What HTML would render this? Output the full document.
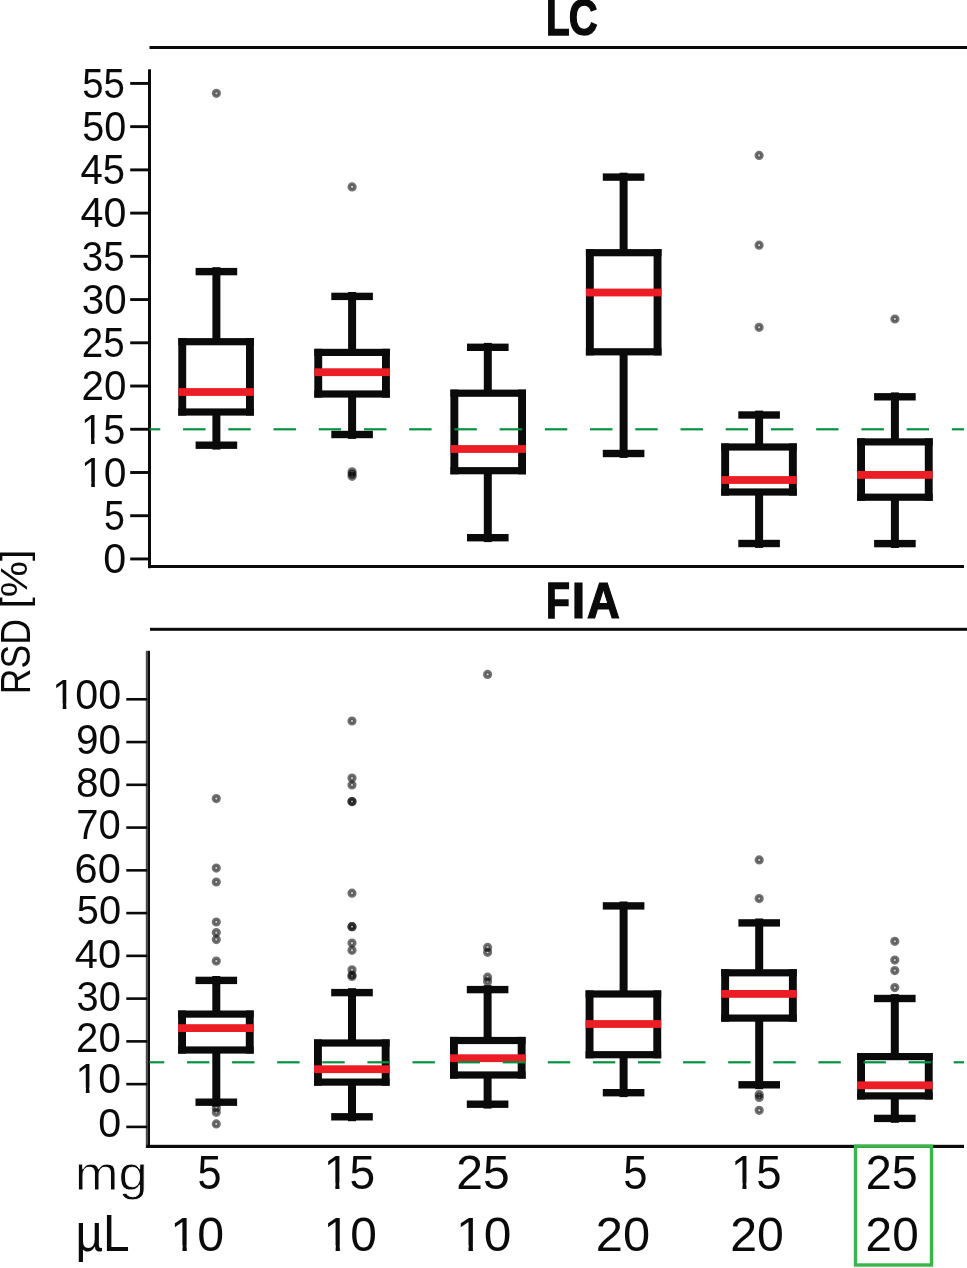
<!DOCTYPE html>
<html><head><meta charset="utf-8"><style>
html,body{margin:0;padding:0;background:#fff;}
body{width:967px;height:1268px;overflow:hidden;font-family:"Liberation Sans",sans-serif;}
svg{display:block;will-change:transform;}
</style></head><body>
<svg width="967" height="1268" viewBox="0 0 967 1268">
<rect width="967" height="1268" fill="#fff"/>
<g transform="matrix(0.38732 0 0 0.50222 545.91 34.53)"><text font-family="Liberation Sans" font-weight="bold" font-size="100" fill="#0a0a0a" stroke="#0a0a0a" stroke-width="2.70" stroke-linejoin="miter">L</text></g>
<g transform="matrix(0.40054 0 0 0.50373 568.83 34.53)"><text font-family="Liberation Sans" font-weight="bold" font-size="100" fill="#0a0a0a" stroke="#0a0a0a" stroke-width="2.65" stroke-linejoin="miter">C</text></g>
<rect x="149.5" y="46" width="817.5" height="3" fill="#0a0a0a"/>
<rect x="148" y="69.3" width="3" height="498.9" fill="#0a0a0a"/>
<rect x="148" y="565" width="816" height="3" fill="#0a0a0a"/>
<rect x="130.2" y="557.50" width="19" height="2.9" fill="#0a0a0a"/>
<g transform="matrix(0.41263 0 0 0.41972 103.35 573.28)"><text font-family="Liberation Sans" font-size="100" fill="#0a0a0a">0</text></g>
<rect x="130.2" y="514.27" width="19" height="2.9" fill="#0a0a0a"/>
<g transform="matrix(0.37474 0 0 0.42571 104.00 530.04)"><text font-family="Liberation Sans" font-size="100" fill="#0a0a0a">5</text></g>
<rect x="130.2" y="471.04" width="19" height="2.9" fill="#0a0a0a"/>
<g transform="matrix(0.40870 0 0 0.41972 80.97 486.82)"><text font-family="Liberation Sans" font-size="100" fill="#0a0a0a">10</text><rect x="1.95" y="-12.70" width="23.19" height="18.55" fill="#fff"/><rect x="33.98" y="-12.70" width="22.17" height="18.55" fill="#fff"/></g>
<rect x="130.2" y="427.81" width="19" height="2.9" fill="#0a0a0a"/>
<g transform="matrix(0.39741 0 0 0.42571 81.08 443.58)"><text font-family="Liberation Sans" font-size="100" fill="#0a0a0a">15</text><rect x="1.95" y="-12.70" width="23.19" height="18.55" fill="#fff"/><rect x="33.98" y="-12.70" width="22.17" height="18.55" fill="#fff"/></g>
<rect x="130.2" y="384.58" width="19" height="2.9" fill="#0a0a0a"/>
<g transform="matrix(0.40392 0 0 0.41972 81.48 400.36)"><text font-family="Liberation Sans" font-size="100" fill="#0a0a0a">20</text></g>
<rect x="130.2" y="341.35" width="19" height="2.9" fill="#0a0a0a"/>
<g transform="matrix(0.38529 0 0 0.41972 81.77 357.13)"><text font-family="Liberation Sans" font-size="100" fill="#0a0a0a">25</text></g>
<rect x="130.2" y="298.12" width="19" height="2.9" fill="#0a0a0a"/>
<g transform="matrix(0.40291 0 0 0.41972 81.79 313.90)"><text font-family="Liberation Sans" font-size="100" fill="#0a0a0a">30</text></g>
<rect x="130.2" y="254.89" width="19" height="2.9" fill="#0a0a0a"/>
<g transform="matrix(0.38447 0 0 0.41972 81.86 270.67)"><text font-family="Liberation Sans" font-size="100" fill="#0a0a0a">35</text></g>
<rect x="130.2" y="211.66" width="19" height="2.9" fill="#0a0a0a"/>
<g transform="matrix(0.41244 0 0 0.41972 80.47 227.44)"><text font-family="Liberation Sans" font-size="100" fill="#0a0a0a">40</text></g>
<rect x="130.2" y="168.43" width="19" height="2.9" fill="#0a0a0a"/>
<g transform="matrix(0.40000 0 0 0.42571 80.50 184.20)"><text font-family="Liberation Sans" font-size="100" fill="#0a0a0a">45</text></g>
<rect x="130.2" y="125.20" width="19" height="2.9" fill="#0a0a0a"/>
<g transform="matrix(0.39612 0 0 0.41972 82.22 140.98)"><text font-family="Liberation Sans" font-size="100" fill="#0a0a0a">50</text></g>
<rect x="130.2" y="81.97" width="19" height="2.9" fill="#0a0a0a"/>
<g transform="matrix(0.38350 0 0 0.42571 82.27 97.74)"><text font-family="Liberation Sans" font-size="100" fill="#0a0a0a">55</text></g>
<rect x="212.40" y="267.20" width="8.0" height="72.90" fill="#0a0a0a"/>
<rect x="212.40" y="413.60" width="8.0" height="36.00" fill="#0a0a0a"/>
<rect x="195.60" y="267.90" width="41.6" height="7.4" fill="#0a0a0a"/>
<rect x="195.60" y="441.50" width="41.6" height="7.4" fill="#0a0a0a"/>
<rect x="178.30" y="338.10" width="75.6" height="7.2" fill="#0a0a0a"/>
<rect x="178.30" y="408.40" width="75.6" height="7.2" fill="#0a0a0a"/>
<rect x="178.30" y="338.10" width="7.9" height="77.50" fill="#0a0a0a"/>
<rect x="246.00" y="338.10" width="7.9" height="77.50" fill="#0a0a0a"/>
<rect x="178.30" y="388.10" width="75.6" height="7.8" fill="#ec1d25"/>
<circle cx="216.40" cy="93.35" r="2.85" fill="#000" fill-opacity="0.2" stroke="#000" stroke-opacity="0.55" stroke-width="3.5"/>
<rect x="348.10" y="292.00" width="8.0" height="58.80" fill="#0a0a0a"/>
<rect x="348.10" y="395.60" width="8.0" height="43.30" fill="#0a0a0a"/>
<rect x="331.30" y="292.70" width="41.6" height="7.4" fill="#0a0a0a"/>
<rect x="331.30" y="430.80" width="41.6" height="7.4" fill="#0a0a0a"/>
<rect x="314.30" y="348.80" width="75.6" height="7.2" fill="#0a0a0a"/>
<rect x="314.30" y="390.40" width="75.6" height="7.2" fill="#0a0a0a"/>
<rect x="314.30" y="348.80" width="7.9" height="48.80" fill="#0a0a0a"/>
<rect x="382.00" y="348.80" width="7.9" height="48.80" fill="#0a0a0a"/>
<rect x="314.30" y="368.30" width="75.6" height="7.8" fill="#ec1d25"/>
<circle cx="352.10" cy="186.90" r="2.85" fill="#000" fill-opacity="0.2" stroke="#000" stroke-opacity="0.55" stroke-width="3.5"/>
<circle cx="352.10" cy="471.80" r="2.85" fill="#000" fill-opacity="0.2" stroke="#000" stroke-opacity="0.55" stroke-width="3.5"/>
<circle cx="352.10" cy="474.10" r="2.85" fill="#000" fill-opacity="0.2" stroke="#000" stroke-opacity="0.55" stroke-width="3.5"/>
<circle cx="352.10" cy="476.30" r="2.85" fill="#000" fill-opacity="0.2" stroke="#000" stroke-opacity="0.55" stroke-width="3.5"/>
<rect x="483.80" y="342.90" width="8.0" height="48.70" fill="#0a0a0a"/>
<rect x="483.80" y="472.30" width="8.0" height="69.80" fill="#0a0a0a"/>
<rect x="467.00" y="343.60" width="41.6" height="7.4" fill="#0a0a0a"/>
<rect x="467.00" y="534.00" width="41.6" height="7.4" fill="#0a0a0a"/>
<rect x="450.40" y="389.60" width="75.6" height="7.2" fill="#0a0a0a"/>
<rect x="450.40" y="467.10" width="75.6" height="7.2" fill="#0a0a0a"/>
<rect x="450.40" y="389.60" width="7.9" height="84.70" fill="#0a0a0a"/>
<rect x="518.10" y="389.60" width="7.9" height="84.70" fill="#0a0a0a"/>
<rect x="450.40" y="445.10" width="75.6" height="7.8" fill="#ec1d25"/>
<rect x="619.60" y="172.70" width="8.0" height="78.40" fill="#0a0a0a"/>
<rect x="619.60" y="353.40" width="8.0" height="104.50" fill="#0a0a0a"/>
<rect x="602.80" y="173.40" width="41.6" height="7.4" fill="#0a0a0a"/>
<rect x="602.80" y="449.80" width="41.6" height="7.4" fill="#0a0a0a"/>
<rect x="585.90" y="249.10" width="75.6" height="7.2" fill="#0a0a0a"/>
<rect x="585.90" y="348.20" width="75.6" height="7.2" fill="#0a0a0a"/>
<rect x="585.90" y="249.10" width="7.9" height="106.30" fill="#0a0a0a"/>
<rect x="653.60" y="249.10" width="7.9" height="106.30" fill="#0a0a0a"/>
<rect x="585.90" y="288.60" width="75.6" height="7.8" fill="#ec1d25"/>
<rect x="755.10" y="410.60" width="8.0" height="34.80" fill="#0a0a0a"/>
<rect x="755.10" y="493.60" width="8.0" height="54.30" fill="#0a0a0a"/>
<rect x="738.30" y="411.30" width="41.6" height="7.4" fill="#0a0a0a"/>
<rect x="738.30" y="539.80" width="41.6" height="7.4" fill="#0a0a0a"/>
<rect x="721.20" y="443.40" width="75.6" height="7.2" fill="#0a0a0a"/>
<rect x="721.20" y="488.40" width="75.6" height="7.2" fill="#0a0a0a"/>
<rect x="721.20" y="443.40" width="7.9" height="52.20" fill="#0a0a0a"/>
<rect x="788.90" y="443.40" width="7.9" height="52.20" fill="#0a0a0a"/>
<rect x="721.20" y="476.10" width="75.6" height="7.8" fill="#ec1d25"/>
<circle cx="759.10" cy="155.40" r="2.85" fill="#000" fill-opacity="0.2" stroke="#000" stroke-opacity="0.55" stroke-width="3.5"/>
<circle cx="759.10" cy="245.20" r="2.85" fill="#000" fill-opacity="0.2" stroke="#000" stroke-opacity="0.55" stroke-width="3.5"/>
<circle cx="759.10" cy="327.30" r="2.85" fill="#000" fill-opacity="0.2" stroke="#000" stroke-opacity="0.55" stroke-width="3.5"/>
<rect x="890.90" y="392.40" width="8.0" height="47.90" fill="#0a0a0a"/>
<rect x="890.90" y="498.80" width="8.0" height="49.20" fill="#0a0a0a"/>
<rect x="874.10" y="393.10" width="41.6" height="7.4" fill="#0a0a0a"/>
<rect x="874.10" y="539.90" width="41.6" height="7.4" fill="#0a0a0a"/>
<rect x="857.10" y="438.30" width="75.6" height="7.2" fill="#0a0a0a"/>
<rect x="857.10" y="493.60" width="75.6" height="7.2" fill="#0a0a0a"/>
<rect x="857.10" y="438.30" width="7.9" height="62.50" fill="#0a0a0a"/>
<rect x="924.80" y="438.30" width="7.9" height="62.50" fill="#0a0a0a"/>
<rect x="857.10" y="471.00" width="75.6" height="7.8" fill="#ec1d25"/>
<circle cx="894.90" cy="319.00" r="2.85" fill="#000" fill-opacity="0.2" stroke="#000" stroke-opacity="0.55" stroke-width="3.5"/>
<rect x="149.50" y="428.20" width="10.78" height="2.2" fill="#00913f"/>
<rect x="183.10" y="428.20" width="22.40" height="2.2" fill="#00913f"/>
<rect x="228.32" y="428.20" width="22.40" height="2.2" fill="#00913f"/>
<rect x="273.54" y="428.20" width="22.40" height="2.2" fill="#00913f"/>
<rect x="318.76" y="428.20" width="22.40" height="2.2" fill="#00913f"/>
<rect x="363.98" y="428.20" width="22.40" height="2.2" fill="#00913f"/>
<rect x="409.20" y="428.20" width="22.40" height="2.2" fill="#00913f"/>
<rect x="454.42" y="428.20" width="22.40" height="2.2" fill="#00913f"/>
<rect x="499.64" y="428.20" width="22.40" height="2.2" fill="#00913f"/>
<rect x="544.86" y="428.20" width="22.40" height="2.2" fill="#00913f"/>
<rect x="590.08" y="428.20" width="22.40" height="2.2" fill="#00913f"/>
<rect x="635.30" y="428.20" width="22.40" height="2.2" fill="#00913f"/>
<rect x="680.52" y="428.20" width="22.40" height="2.2" fill="#00913f"/>
<rect x="725.74" y="428.20" width="22.40" height="2.2" fill="#00913f"/>
<rect x="770.96" y="428.20" width="22.40" height="2.2" fill="#00913f"/>
<rect x="816.18" y="428.20" width="22.40" height="2.2" fill="#00913f"/>
<rect x="861.40" y="428.20" width="22.40" height="2.2" fill="#00913f"/>
<rect x="906.62" y="428.20" width="22.40" height="2.2" fill="#00913f"/>
<rect x="951.84" y="428.20" width="12.16" height="2.2" fill="#00913f"/>
<g transform="matrix(0.39268 0 0 0.49236 545.88 617.84)"><text font-family="Liberation Sans" font-weight="bold" font-size="100" fill="#0a0a0a" stroke="#0a0a0a" stroke-width="2.71" stroke-linejoin="miter">F</text></g>
<g transform="matrix(0.48501 0 0 0.49518 571.78 617.93)"><text font-family="Liberation Sans" font-weight="bold" font-size="100" fill="#0a0a0a" stroke="#0a0a0a" stroke-width="2.45" stroke-linejoin="miter">I</text></g>
<g transform="matrix(0.45446 0 0 0.49350 586.94 617.88)"><text font-family="Liberation Sans" font-weight="bold" font-size="100" fill="#0a0a0a" stroke="#0a0a0a" stroke-width="2.53" stroke-linejoin="miter">A</text></g>
<rect x="150" y="627.8" width="817" height="3" fill="#0a0a0a"/>
<rect x="145.8" y="650.8" width="2.0" height="497.2" fill="#4a4a4a"/>
<rect x="147.7" y="650.8" width="2.3" height="497.2" fill="#0a0a0a"/>
<rect x="146.2" y="1144.8" width="817.8" height="3.2" fill="#0a0a0a"/>
<rect x="126.3" y="1125.60" width="21" height="2.6" fill="#0a0a0a"/>
<g transform="matrix(0.41263 0 0 0.40845 98.15 1137.09)"><text font-family="Liberation Sans" font-size="100" fill="#0a0a0a">0</text></g>
<rect x="126.3" y="1082.84" width="21" height="2.6" fill="#0a0a0a"/>
<g transform="matrix(0.40973 0 0 0.41831 75.56 1092.88)"><text font-family="Liberation Sans" font-size="100" fill="#0a0a0a">10</text><rect x="1.95" y="-12.70" width="23.19" height="18.55" fill="#fff"/><rect x="33.98" y="-12.70" width="22.17" height="18.55" fill="#fff"/></g>
<rect x="126.3" y="1040.08" width="21" height="2.6" fill="#0a0a0a"/>
<g transform="matrix(0.40196 0 0 0.42113 76.09 1051.88)"><text font-family="Liberation Sans" font-size="100" fill="#0a0a0a">20</text></g>
<rect x="126.3" y="997.32" width="21" height="2.6" fill="#0a0a0a"/>
<g transform="matrix(0.39806 0 0 0.41831 76.51 1010.98)"><text font-family="Liberation Sans" font-size="100" fill="#0a0a0a">30</text></g>
<rect x="126.3" y="954.56" width="21" height="2.6" fill="#0a0a0a"/>
<g transform="matrix(0.41627 0 0 0.41549 74.86 968.28)"><text font-family="Liberation Sans" font-size="100" fill="#0a0a0a">40</text></g>
<rect x="126.3" y="911.80" width="21" height="2.6" fill="#0a0a0a"/>
<g transform="matrix(0.39806 0 0 0.41549 76.81 923.68)"><text font-family="Liberation Sans" font-size="100" fill="#0a0a0a">50</text></g>
<rect x="126.3" y="869.04" width="21" height="2.6" fill="#0a0a0a"/>
<g transform="matrix(0.41569 0 0 0.41972 74.62 882.98)"><text font-family="Liberation Sans" font-size="100" fill="#0a0a0a">60</text></g>
<rect x="126.3" y="826.28" width="21" height="2.6" fill="#0a0a0a"/>
<g transform="matrix(0.40000 0 0 0.42113 76.30 838.58)"><text font-family="Liberation Sans" font-size="100" fill="#0a0a0a">70</text></g>
<rect x="126.3" y="783.52" width="21" height="2.6" fill="#0a0a0a"/>
<g transform="matrix(0.40488 0 0 0.41690 76.08 797.48)"><text font-family="Liberation Sans" font-size="100" fill="#0a0a0a">80</text></g>
<rect x="126.3" y="740.76" width="21" height="2.6" fill="#0a0a0a"/>
<g transform="matrix(0.40488 0 0 0.42254 76.08 753.58)"><text font-family="Liberation Sans" font-size="100" fill="#0a0a0a">90</text></g>
<rect x="126.3" y="698.00" width="21" height="2.6" fill="#0a0a0a"/>
<g transform="matrix(0.41274 0 0 0.42113 52.33 708.78)"><text font-family="Liberation Sans" font-size="100" fill="#0a0a0a">100</text><rect x="1.95" y="-12.70" width="23.19" height="18.55" fill="#fff"/><rect x="33.98" y="-12.70" width="22.17" height="18.55" fill="#fff"/></g>
<rect x="212.30" y="976.00" width="8.0" height="36.50" fill="#0a0a0a"/>
<rect x="212.30" y="1051.60" width="8.0" height="55.00" fill="#0a0a0a"/>
<rect x="195.50" y="976.70" width="41.6" height="7.4" fill="#0a0a0a"/>
<rect x="195.50" y="1098.50" width="41.6" height="7.4" fill="#0a0a0a"/>
<rect x="178.10" y="1010.50" width="75.6" height="7.2" fill="#0a0a0a"/>
<rect x="178.10" y="1046.40" width="75.6" height="7.2" fill="#0a0a0a"/>
<rect x="178.10" y="1010.50" width="7.9" height="43.10" fill="#0a0a0a"/>
<rect x="245.80" y="1010.50" width="7.9" height="43.10" fill="#0a0a0a"/>
<rect x="178.10" y="1024.20" width="75.6" height="7.8" fill="#ec1d25"/>
<circle cx="216.30" cy="798.60" r="2.85" fill="#000" fill-opacity="0.2" stroke="#000" stroke-opacity="0.55" stroke-width="3.5"/>
<circle cx="216.30" cy="868.10" r="2.85" fill="#000" fill-opacity="0.2" stroke="#000" stroke-opacity="0.55" stroke-width="3.5"/>
<circle cx="216.30" cy="882.00" r="2.85" fill="#000" fill-opacity="0.2" stroke="#000" stroke-opacity="0.55" stroke-width="3.5"/>
<circle cx="216.30" cy="922.00" r="2.85" fill="#000" fill-opacity="0.2" stroke="#000" stroke-opacity="0.55" stroke-width="3.5"/>
<circle cx="216.30" cy="932.60" r="2.85" fill="#000" fill-opacity="0.2" stroke="#000" stroke-opacity="0.55" stroke-width="3.5"/>
<circle cx="216.30" cy="939.60" r="2.85" fill="#000" fill-opacity="0.2" stroke="#000" stroke-opacity="0.55" stroke-width="3.5"/>
<circle cx="216.30" cy="961.10" r="2.85" fill="#000" fill-opacity="0.2" stroke="#000" stroke-opacity="0.55" stroke-width="3.5"/>
<circle cx="216.30" cy="1108.00" r="2.85" fill="#000" fill-opacity="0.2" stroke="#000" stroke-opacity="0.55" stroke-width="3.5"/>
<circle cx="216.30" cy="1112.30" r="2.85" fill="#000" fill-opacity="0.2" stroke="#000" stroke-opacity="0.55" stroke-width="3.5"/>
<circle cx="216.30" cy="1123.90" r="2.85" fill="#000" fill-opacity="0.2" stroke="#000" stroke-opacity="0.55" stroke-width="3.5"/>
<rect x="348.00" y="988.20" width="8.0" height="53.20" fill="#0a0a0a"/>
<rect x="348.00" y="1083.70" width="8.0" height="37.50" fill="#0a0a0a"/>
<rect x="331.20" y="988.90" width="41.6" height="7.4" fill="#0a0a0a"/>
<rect x="331.20" y="1113.10" width="41.6" height="7.4" fill="#0a0a0a"/>
<rect x="314.00" y="1039.40" width="75.6" height="7.2" fill="#0a0a0a"/>
<rect x="314.00" y="1078.50" width="75.6" height="7.2" fill="#0a0a0a"/>
<rect x="314.00" y="1039.40" width="7.9" height="46.30" fill="#0a0a0a"/>
<rect x="381.70" y="1039.40" width="7.9" height="46.30" fill="#0a0a0a"/>
<rect x="314.00" y="1065.30" width="75.6" height="7.8" fill="#ec1d25"/>
<circle cx="352.00" cy="721.00" r="2.85" fill="#000" fill-opacity="0.2" stroke="#000" stroke-opacity="0.55" stroke-width="3.5"/>
<circle cx="352.00" cy="778.10" r="2.85" fill="#000" fill-opacity="0.2" stroke="#000" stroke-opacity="0.55" stroke-width="3.5"/>
<circle cx="352.00" cy="785.00" r="2.85" fill="#000" fill-opacity="0.2" stroke="#000" stroke-opacity="0.55" stroke-width="3.5"/>
<circle cx="352.00" cy="801.60" r="2.85" fill="#000" fill-opacity="0.2" stroke="#000" stroke-opacity="0.55" stroke-width="3.5"/>
<circle cx="352.00" cy="801.60" r="2.85" fill="#000" fill-opacity="0.2" stroke="#000" stroke-opacity="0.55" stroke-width="3.5"/>
<circle cx="352.00" cy="893.20" r="2.85" fill="#000" fill-opacity="0.2" stroke="#000" stroke-opacity="0.55" stroke-width="3.5"/>
<circle cx="352.00" cy="926.70" r="2.85" fill="#000" fill-opacity="0.2" stroke="#000" stroke-opacity="0.55" stroke-width="3.5"/>
<circle cx="352.00" cy="926.70" r="2.85" fill="#000" fill-opacity="0.2" stroke="#000" stroke-opacity="0.55" stroke-width="3.5"/>
<circle cx="352.00" cy="943.10" r="2.85" fill="#000" fill-opacity="0.2" stroke="#000" stroke-opacity="0.55" stroke-width="3.5"/>
<circle cx="352.00" cy="950.30" r="2.85" fill="#000" fill-opacity="0.2" stroke="#000" stroke-opacity="0.55" stroke-width="3.5"/>
<circle cx="352.00" cy="969.80" r="2.85" fill="#000" fill-opacity="0.2" stroke="#000" stroke-opacity="0.55" stroke-width="3.5"/>
<circle cx="352.00" cy="975.00" r="2.85" fill="#000" fill-opacity="0.2" stroke="#000" stroke-opacity="0.55" stroke-width="3.5"/>
<circle cx="352.00" cy="976.50" r="2.85" fill="#000" fill-opacity="0.2" stroke="#000" stroke-opacity="0.55" stroke-width="3.5"/>
<rect x="483.60" y="985.20" width="8.0" height="53.70" fill="#0a0a0a"/>
<rect x="483.60" y="1076.60" width="8.0" height="32.00" fill="#0a0a0a"/>
<rect x="466.80" y="985.90" width="41.6" height="7.4" fill="#0a0a0a"/>
<rect x="466.80" y="1100.50" width="41.6" height="7.4" fill="#0a0a0a"/>
<rect x="450.00" y="1036.90" width="75.6" height="7.2" fill="#0a0a0a"/>
<rect x="450.00" y="1071.40" width="75.6" height="7.2" fill="#0a0a0a"/>
<rect x="450.00" y="1036.90" width="7.9" height="41.70" fill="#0a0a0a"/>
<rect x="517.70" y="1036.90" width="7.9" height="41.70" fill="#0a0a0a"/>
<rect x="450.00" y="1054.30" width="75.6" height="7.8" fill="#ec1d25"/>
<circle cx="487.60" cy="674.40" r="2.85" fill="#000" fill-opacity="0.2" stroke="#000" stroke-opacity="0.55" stroke-width="3.5"/>
<circle cx="487.60" cy="947.40" r="2.85" fill="#000" fill-opacity="0.2" stroke="#000" stroke-opacity="0.55" stroke-width="3.5"/>
<circle cx="487.60" cy="952.30" r="2.85" fill="#000" fill-opacity="0.2" stroke="#000" stroke-opacity="0.55" stroke-width="3.5"/>
<circle cx="487.60" cy="977.20" r="2.85" fill="#000" fill-opacity="0.2" stroke="#000" stroke-opacity="0.55" stroke-width="3.5"/>
<circle cx="487.60" cy="981.50" r="2.85" fill="#000" fill-opacity="0.2" stroke="#000" stroke-opacity="0.55" stroke-width="3.5"/>
<rect x="619.60" y="901.50" width="8.0" height="90.90" fill="#0a0a0a"/>
<rect x="619.60" y="1056.30" width="8.0" height="40.80" fill="#0a0a0a"/>
<rect x="602.80" y="902.20" width="41.6" height="7.4" fill="#0a0a0a"/>
<rect x="602.80" y="1089.00" width="41.6" height="7.4" fill="#0a0a0a"/>
<rect x="585.60" y="990.40" width="75.6" height="7.2" fill="#0a0a0a"/>
<rect x="585.60" y="1051.10" width="75.6" height="7.2" fill="#0a0a0a"/>
<rect x="585.60" y="990.40" width="7.9" height="67.90" fill="#0a0a0a"/>
<rect x="653.30" y="990.40" width="7.9" height="67.90" fill="#0a0a0a"/>
<rect x="585.60" y="1020.10" width="75.6" height="7.8" fill="#ec1d25"/>
<rect x="755.20" y="918.50" width="8.0" height="52.70" fill="#0a0a0a"/>
<rect x="755.20" y="1019.70" width="8.0" height="69.50" fill="#0a0a0a"/>
<rect x="738.40" y="919.20" width="41.6" height="7.4" fill="#0a0a0a"/>
<rect x="738.40" y="1081.10" width="41.6" height="7.4" fill="#0a0a0a"/>
<rect x="721.20" y="969.20" width="75.6" height="7.2" fill="#0a0a0a"/>
<rect x="721.20" y="1014.50" width="75.6" height="7.2" fill="#0a0a0a"/>
<rect x="721.20" y="969.20" width="7.9" height="52.50" fill="#0a0a0a"/>
<rect x="788.90" y="969.20" width="7.9" height="52.50" fill="#0a0a0a"/>
<rect x="721.20" y="990.00" width="75.6" height="7.8" fill="#ec1d25"/>
<circle cx="759.20" cy="859.90" r="2.85" fill="#000" fill-opacity="0.2" stroke="#000" stroke-opacity="0.55" stroke-width="3.5"/>
<circle cx="759.20" cy="898.60" r="2.85" fill="#000" fill-opacity="0.2" stroke="#000" stroke-opacity="0.55" stroke-width="3.5"/>
<circle cx="759.20" cy="1094.50" r="2.85" fill="#000" fill-opacity="0.2" stroke="#000" stroke-opacity="0.55" stroke-width="3.5"/>
<circle cx="759.20" cy="1097.50" r="2.85" fill="#000" fill-opacity="0.2" stroke="#000" stroke-opacity="0.55" stroke-width="3.5"/>
<circle cx="759.20" cy="1110.30" r="2.85" fill="#000" fill-opacity="0.2" stroke="#000" stroke-opacity="0.55" stroke-width="3.5"/>
<rect x="890.80" y="994.10" width="8.0" height="60.90" fill="#0a0a0a"/>
<rect x="890.80" y="1097.50" width="8.0" height="25.30" fill="#0a0a0a"/>
<rect x="874.00" y="994.80" width="41.6" height="7.4" fill="#0a0a0a"/>
<rect x="874.00" y="1114.70" width="41.6" height="7.4" fill="#0a0a0a"/>
<rect x="857.10" y="1053.00" width="75.6" height="7.2" fill="#0a0a0a"/>
<rect x="857.10" y="1092.30" width="75.6" height="7.2" fill="#0a0a0a"/>
<rect x="857.10" y="1053.00" width="7.9" height="46.50" fill="#0a0a0a"/>
<rect x="924.80" y="1053.00" width="7.9" height="46.50" fill="#0a0a0a"/>
<rect x="857.10" y="1081.40" width="75.6" height="7.8" fill="#ec1d25"/>
<circle cx="894.80" cy="941.30" r="2.85" fill="#000" fill-opacity="0.2" stroke="#000" stroke-opacity="0.55" stroke-width="3.5"/>
<circle cx="894.80" cy="960.10" r="2.85" fill="#000" fill-opacity="0.2" stroke="#000" stroke-opacity="0.55" stroke-width="3.5"/>
<circle cx="894.80" cy="970.60" r="2.85" fill="#000" fill-opacity="0.2" stroke="#000" stroke-opacity="0.55" stroke-width="3.5"/>
<circle cx="894.80" cy="987.60" r="2.85" fill="#000" fill-opacity="0.2" stroke="#000" stroke-opacity="0.55" stroke-width="3.5"/>
<rect x="149.40" y="1061.20" width="14.90" height="2.2" fill="#00913f"/>
<rect x="187.00" y="1061.20" width="22.40" height="2.2" fill="#00913f"/>
<rect x="232.10" y="1061.20" width="22.40" height="2.2" fill="#00913f"/>
<rect x="277.20" y="1061.20" width="22.40" height="2.2" fill="#00913f"/>
<rect x="322.30" y="1061.20" width="22.40" height="2.2" fill="#00913f"/>
<rect x="367.40" y="1061.20" width="22.40" height="2.2" fill="#00913f"/>
<rect x="412.50" y="1061.20" width="22.40" height="2.2" fill="#00913f"/>
<rect x="457.60" y="1061.20" width="22.40" height="2.2" fill="#00913f"/>
<rect x="502.70" y="1061.20" width="22.40" height="2.2" fill="#00913f"/>
<rect x="547.80" y="1061.20" width="22.40" height="2.2" fill="#00913f"/>
<rect x="592.90" y="1061.20" width="22.40" height="2.2" fill="#00913f"/>
<rect x="638.00" y="1061.20" width="22.40" height="2.2" fill="#00913f"/>
<rect x="683.10" y="1061.20" width="22.40" height="2.2" fill="#00913f"/>
<rect x="728.20" y="1061.20" width="22.40" height="2.2" fill="#00913f"/>
<rect x="773.30" y="1061.20" width="22.40" height="2.2" fill="#00913f"/>
<rect x="818.40" y="1061.20" width="22.40" height="2.2" fill="#00913f"/>
<rect x="863.50" y="1061.20" width="22.40" height="2.2" fill="#00913f"/>
<rect x="908.60" y="1061.20" width="22.40" height="2.2" fill="#00913f"/>
<rect x="953.70" y="1061.20" width="10.30" height="2.2" fill="#00913f"/>
<rect x="855.5" y="1146.2" width="76.0" height="118.8" fill="none" stroke="#3ab54a" stroke-width="3.4"/>
<g transform="matrix(0.52540 0 0 0.47733 74.78 1189.78)"><text font-family="Liberation Sans" font-size="100" fill="#0a0a0a" stroke="#fff" stroke-width="1.71">mg</text></g>
<g transform="matrix(0.47864 0 0 0.51222 75.45 1251.34)"><text font-family="Liberation Sans" font-size="100" fill="#0a0a0a">µL</text></g>
<g transform="matrix(0.43158 0 0 0.48143 197.57 1188.92)"><text font-family="Liberation Sans" font-size="100" fill="#0a0a0a">5</text></g>
<g transform="matrix(0.46108 0 0 0.48143 323.76 1188.92)"><text font-family="Liberation Sans" font-size="100" fill="#0a0a0a">15</text><rect x="1.95" y="-12.70" width="23.19" height="18.55" fill="#fff"/><rect x="33.98" y="-12.70" width="22.17" height="18.55" fill="#fff"/></g>
<g transform="matrix(0.48039 0 0 0.47465 456.20 1188.93)"><text font-family="Liberation Sans" font-size="100" fill="#0a0a0a">25</text></g>
<g transform="matrix(0.43579 0 0 0.48143 623.36 1188.92)"><text font-family="Liberation Sans" font-size="100" fill="#0a0a0a">5</text></g>
<g transform="matrix(0.45491 0 0 0.48143 731.02 1188.92)"><text font-family="Liberation Sans" font-size="100" fill="#0a0a0a">15</text><rect x="1.95" y="-12.70" width="23.19" height="18.55" fill="#fff"/><rect x="33.98" y="-12.70" width="22.17" height="18.55" fill="#fff"/></g>
<g transform="matrix(0.46765 0 0 0.47465 865.66 1188.93)"><text font-family="Liberation Sans" font-size="100" fill="#0a0a0a">25</text></g>
<g transform="matrix(0.48264 0 0 0.47606 170.36 1251.42)"><text font-family="Liberation Sans" font-size="100" fill="#0a0a0a">10</text><rect x="1.95" y="-12.70" width="23.19" height="18.55" fill="#fff"/><rect x="33.98" y="-12.70" width="22.17" height="18.55" fill="#fff"/></g>
<g transform="matrix(0.47853 0 0 0.47606 323.60 1251.42)"><text font-family="Liberation Sans" font-size="100" fill="#0a0a0a">10</text><rect x="1.95" y="-12.70" width="23.19" height="18.55" fill="#fff"/><rect x="33.98" y="-12.70" width="22.17" height="18.55" fill="#fff"/></g>
<g transform="matrix(0.49702 0 0 0.47606 456.02 1251.42)"><text font-family="Liberation Sans" font-size="100" fill="#0a0a0a">10</text><rect x="1.95" y="-12.70" width="23.19" height="18.55" fill="#fff"/><rect x="33.98" y="-12.70" width="22.17" height="18.55" fill="#fff"/></g>
<g transform="matrix(0.48824 0 0 0.47606 595.76 1251.42)"><text font-family="Liberation Sans" font-size="100" fill="#0a0a0a">20</text></g>
<g transform="matrix(0.48235 0 0 0.47606 730.29 1251.42)"><text font-family="Liberation Sans" font-size="100" fill="#0a0a0a">20</text></g>
<g transform="matrix(0.47745 0 0 0.47606 865.61 1251.42)"><text font-family="Liberation Sans" font-size="100" fill="#0a0a0a">20</text></g>
<text transform="matrix(0 -0.35567 0.41831 0 29.88 694.15)" font-family="Liberation Sans" font-size="100" fill="#0a0a0a">RSD</text>
<text transform="matrix(0 -0.40769 0.37754 0 27.37 608.45)" font-family="Liberation Sans" font-size="100" fill="#0a0a0a">[%]</text>
</svg>
</body></html>
